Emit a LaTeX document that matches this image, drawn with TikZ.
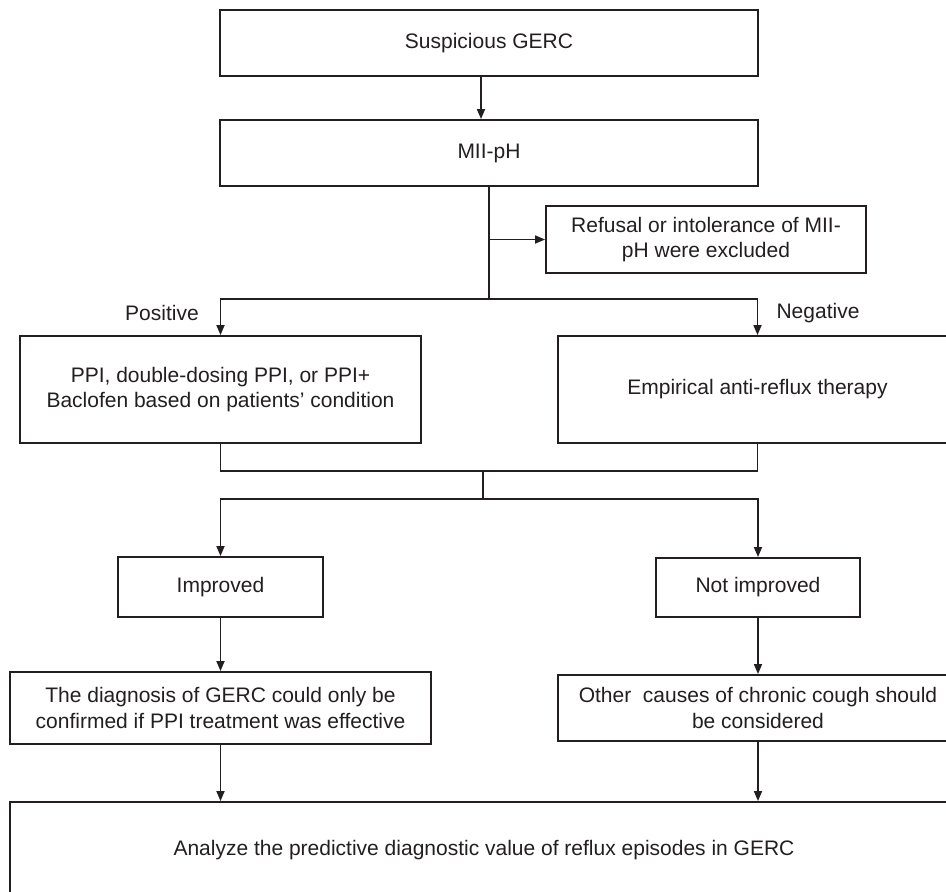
\documentclass[tikz,border=0pt]{standalone}
\usepackage{fontspec}
\setmainfont{Liberation Sans}
\usetikzlibrary{arrows.meta}
\definecolor{ink}{HTML}{231F20}
\tikzset{
  box/.style={draw=ink, line width=1.9pt, inner sep=0pt, align=center, text=ink,
    font=\fontsize{21}{25.6}\selectfont},
  conn/.style={draw=ink, line width=1.7pt},
  arr/.style={conn, -{Triangle[length=10pt,width=8pt]}},
  lbl/.style={text=ink, inner sep=0pt, font=\fontsize{21}{25.6}\selectfont}
}
\begin{document}
\begin{tikzpicture}[x=1pt,y=-1pt]
\useasboundingbox (0,0) rectangle (946,892);
\clip (0,0) rectangle (946,892);
\fill[white] (0,0) rectangle (946,892);

\node[box, minimum width=538pt, minimum height=66pt] (b1) at (489,43) {Suspicious GERC};
\node[box, minimum width=538pt, minimum height=66pt] (b2) at (489,153) {MII-pH};
\node[box, minimum width=320pt, minimum height=67pt] (ref) at (706,239.5) {Refusal or intolerance of MII-\\pH were excluded};
\node[box, minimum width=401pt, minimum height=107pt] (ppi) at (220.5,389.5) {PPI, double-dosing PPI, or PPI+\\Baclofen based on patients' condition};
\node[box, minimum width=399pt, minimum height=107pt] (emp) at (757.5,389.5) {Empirical anti-reflux therapy};
\node[box, minimum width=205pt, minimum height=60pt] (imp) at (220.5,587) {Improved};
\node[box, minimum width=204pt, minimum height=59pt] (nimp) at (758,587.5) {Not improved};
\node[box, minimum width=421pt, minimum height=72pt] (diag) at (220.5,708) {The diagnosis of GERC could only be\\confirmed if PPI treatment was effective};
\node[box, minimum width=400pt, minimum height=66pt] (oth) at (758,708) {Other\ \ causes of chronic cough should\\be considered};
\node[box, minimum width=948pt, minimum height=96pt] (bot) at (484,850) {Analyze the predictive diagnostic value of reflux episodes in GERC};

\node[lbl] (pos) at (162,313) {Positive};
\node[lbl] (neg) at (818,313) {Negative};

\coordinate (s1) at (489,299);
\coordinate (m1) at (483,471);
\coordinate (m2) at (483,499);

\draw[arr] ([xshift=-8pt]b1.south) -- ([xshift=-8pt]b2.north);
\draw[conn] (b2.south) -- (s1);
\draw[arr] (b2.south |- ref.west) -- (ref.west);
\draw[arr] (s1) -| (ppi.north);
\draw[arr] (s1) -| (emp.north);
\draw[conn] (ppi.south) |- (m1);
\draw[conn] (emp.south) |- (m1);
\draw[conn] (m1) -- (m2);
\draw[arr] (m2) -| (imp.north);
\draw[arr] (m2) -| (nimp.north);
\draw[arr] (imp) -- (diag);
\draw[arr] (nimp) -- (oth);
\draw[arr] (diag.south) -- (diag.south |- bot.north);
\draw[arr] (oth.south) -- (oth.south |- bot.north);
\end{tikzpicture}
\end{document}
